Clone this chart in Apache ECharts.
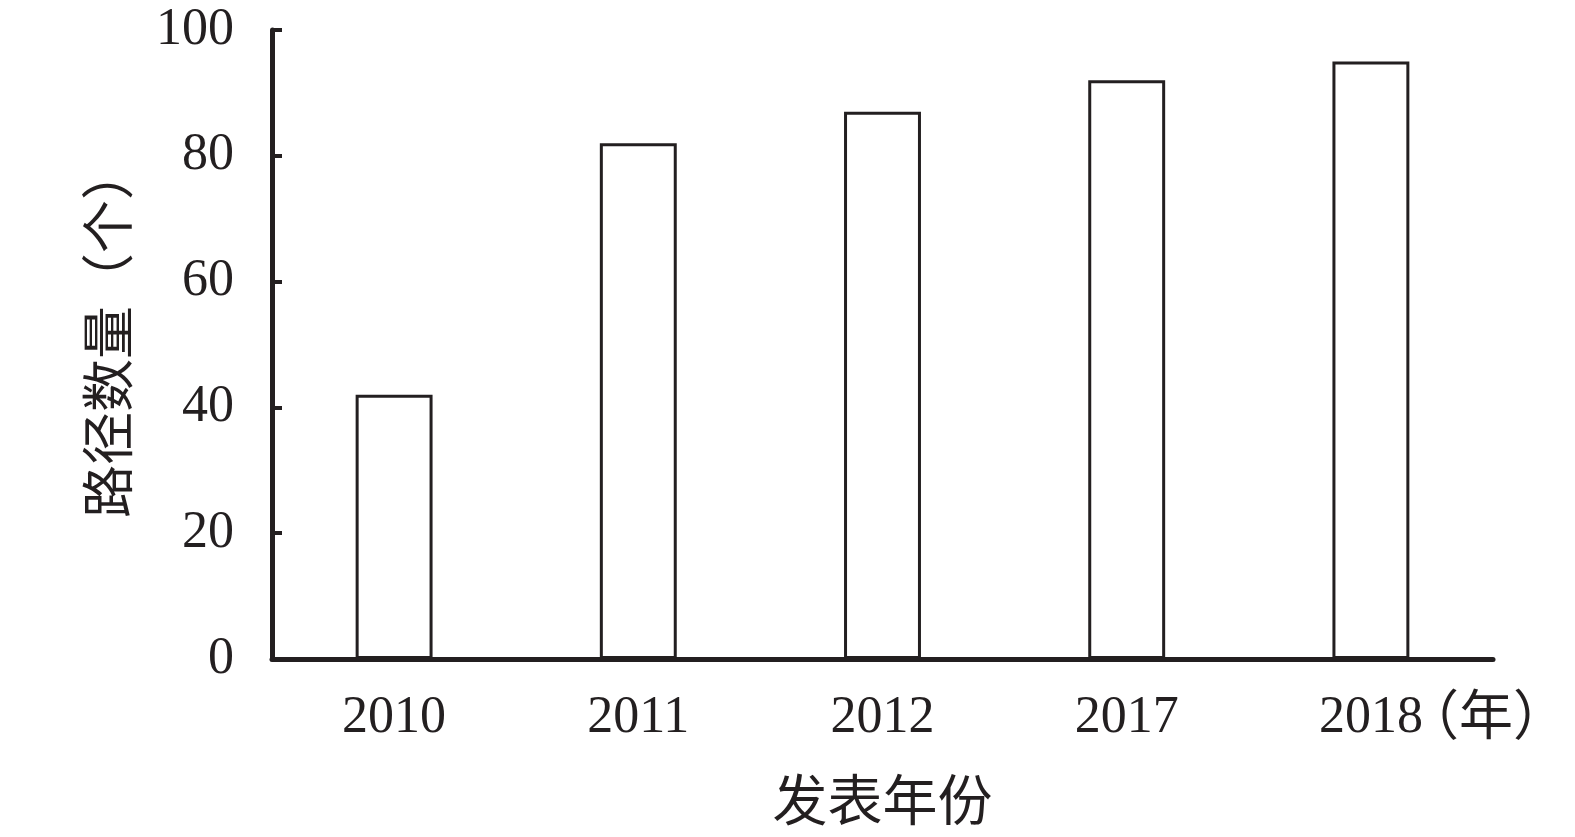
<!DOCTYPE html>
<html><head><meta charset="utf-8">
<script src="https://cdn.jsdelivr.net/npm/echarts@6/dist/echarts.min.js"></script>
<style>html,body{margin:0;padding:0;background:#fff}#c{width:1575px;height:837px}</style>
</head><body><div id="c"></div>
<script>
const categories = ['2010', '2011', '2012', '2017', '2018'];
const pathCounts = [42, 82, 87, 92, 95];
const yTicks = [0, 20, 40, 60, 80, 100];

const ink = '#231f20';
const font = '"Liberation Serif", "Noto Sans CJK SC", serif';
const cjk = '"Noto Sans CJK SC", sans-serif';
const chart = echarts.init(document.getElementById('c'));
chart.setOption({
  backgroundColor: '#fff',
  animation: false,
  grid: { left: 272, right: 82, top: 30, bottom: 178, outerBoundsMode: 'none', containLabel: false },
  xAxis: [{
    type: 'category', data: categories,
    name: '发表年份', nameLocation: 'middle', nameGap: 119,
    nameTextStyle: { color: ink, fontSize: 55, fontFamily: font },
    axisLine: { lineStyle: { color: ink, width: 5 } },
    axisTick: { show: false },
    axisLabel: { color: ink, fontSize: 52, fontFamily: font, margin: 33 }
  }, {
    type: 'category', data: categories, position: 'bottom', offset: 55,
    name: '（年）', nameLocation: 'end', nameGap: -88,
    nameTextStyle: { color: ink, fontSize: 54, fontFamily: cjk },
    axisLine: { show: false }, axisTick: { show: false }, axisLabel: { show: false }
  }],
  yAxis: {
    type: 'value', min: yTicks[0], max: yTicks[yTicks.length - 1], interval: yTicks[1] - yTicks[0],
    name: '路径数量（个）', nameLocation: 'middle', nameGap: 131,
    nameTextStyle: { color: ink, fontSize: 53, fontFamily: font, padding: [0, 0, 0, 24] },
    axisLine: { show: true, lineStyle: { color: ink, width: 5 } },
    axisTick: { show: true, inside: true, length: 10, lineStyle: { color: ink, width: 4 } },
    axisLabel: { color: ink, fontSize: 52, fontFamily: font, margin: 38 },
    splitLine: { show: false }
  },
  series: [{
    type: 'bar', data: pathCounts, barWidth: '31.5%',
    itemStyle: { color: '#fff', borderColor: ink, borderWidth: 3 }
  }]
});
</script></body></html>
